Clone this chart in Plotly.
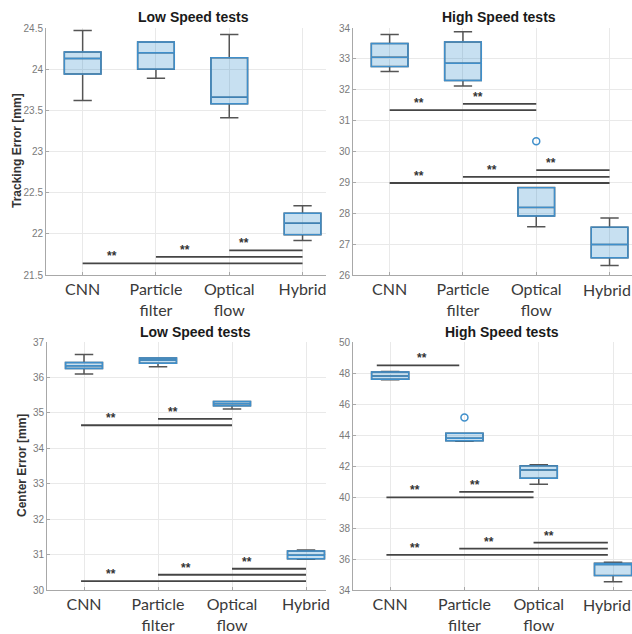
import plotly.graph_objects as go

W, H = 632, 634

categories = ["CNN", "Particle<br>filter", "Optical<br>flow", "Hybrid"]
xpos = [1, 2, 3, 4]

# ---- Panel A: Tracking error, low speed ----
a_low = [23.62, 23.89, 23.41, 21.92]
a_q1 = [23.94, 24.00, 23.58, 21.99]
a_med = [24.13, 24.20, 23.66, 22.13]
a_q3 = [24.21, 24.33, 24.14, 22.25]
a_up = [24.47, 24.33, 24.42, 22.34]
a_out_x, a_out_y = [], []
a_sig_x0 = [1, 2, 3]
a_sig_x1 = [4, 4, 4]
a_sig_y = [21.64, 21.72, 21.80]

# ---- Panel B: Tracking error, high speed ----
b_low = [32.59, 32.12, 27.56, 26.31]
b_q1 = [32.75, 32.30, 27.91, 26.56]
b_med = [33.05, 32.86, 28.19, 26.99]
b_q3 = [33.50, 33.55, 28.83, 27.55]
b_up = [33.79, 33.88, 28.83, 27.85]
b_out_x, b_out_y = [3], [30.33]
b_sig_x0 = [1, 2, 1, 2, 3]
b_sig_x1 = [3, 3, 4, 4, 4]
b_sig_y = [31.34, 31.54, 28.98, 29.18, 29.40]

# ---- Panel C: Center error, low speed ----
c_low = [36.10, 36.30, 35.11, 30.87]
c_q1 = [36.25, 36.40, 35.20, 30.88]
c_med = [36.33, 36.49, 35.26, 30.98]
c_q3 = [36.42, 36.55, 35.32, 31.10]
c_up = [36.65, 36.55, 35.32, 31.13]
c_out_x, c_out_y = [], []
c_sig_x0 = [0.96, 2, 0.96, 2, 3]
c_sig_x1 = [3, 3, 4, 4, 4]
c_sig_y = [34.65, 34.83, 30.25, 30.43, 30.60]

# ---- Panel D: Center error, high speed ----
d_low = [47.57, 43.60, 40.83, 34.54]
d_q1 = [47.60, 43.63, 41.21, 34.93]
d_med = [47.80, 43.79, 41.75, 35.65]
d_q3 = [48.06, 44.11, 42.01, 35.72]
d_up = [48.10, 44.11, 42.08, 35.79]
d_out_x, d_out_y = [2], [45.13]
d_sig_x0 = [0.82, 0.95, 1.93, 0.95, 1.93, 2.93]
d_sig_x1 = [1.93, 2.93, 2.93, 3.93, 3.93, 3.93]
d_sig_y = [48.49, 39.97, 40.33, 36.26, 36.67, 37.06]

titles = ["Low Speed tests", "High Speed tests", "Low Speed tests", "High Speed tests"]
ytitles = ["Tracking Error [mm]", "Center Error [mm]"]

BOX_LINE = "#3f8fcb"
BOX_FILL = "rgba(0,114,189,0.22)"
WHISK = "#555555"
SIG = "#454545"
GRID = "#e9e9e9"
AXL = "#a8a8a8"
XFONT = dict(family="Lato", size=16, color="#3a3a3a")


def px_x(p):
    return p / W


def px_y(p):
    return 1 - p / H


# edge=True: last category label is placed flush with the page's right edge
panels = [
    dict(low=a_low, q1=a_q1, med=a_med, q3=a_q3, up=a_up, ox=a_out_x, oy=a_out_y,
         sx0=a_sig_x0, sx1=a_sig_x1, sy=a_sig_y, soff=[0.4, 0.4, 0.2], edge=False,
         xd=(46, 326), yd=(28, 275), xr=(0.5, 0.5 + 280 / 73.3), yr=(21.5, 24.5), dt=0.5),
    dict(low=b_low, q1=b_q1, med=b_med, q3=b_q3, up=b_up, ox=b_out_x, oy=b_out_y,
         sx0=b_sig_x0, sx1=b_sig_x1, sy=b_sig_y, soff=[0.4, 0.2, 0.4, 0.4, 0.2], edge=True,
         xd=(353, 632), yd=(28, 275), xr=(0.5, 0.5 + 279 / 73.3), yr=(26, 34), dt=1),
    dict(low=c_low, q1=c_q1, med=c_med, q3=c_q3, up=c_up, ox=c_out_x, oy=c_out_y,
         sx0=c_sig_x0, sx1=c_sig_x1, sy=c_sig_y, soff=[0.4, 0.2, 0.4, 0.38, 0.2], edge=False,
         xd=(47, 326), yd=(342, 590), xr=(0.5, 0.5 + 279 / 74.0), yr=(30, 37), dt=1),
    dict(low=d_low, q1=d_q1, med=d_med, q3=d_q3, up=d_up, ox=d_out_x, oy=d_out_y,
         sx0=d_sig_x0, sx1=d_sig_x1, sy=d_sig_y, soff=[0.61, 0.38, 0.21, 0.38, 0.4, 0.21], edge=True,
         xd=(353, 632), yd=(342, 590), xr=(0.5, 0.5 + 279 / 74.3), yr=(34, 50), dt=2),
]

fig = go.Figure()
layout = dict(
    width=W, height=H, margin=dict(l=0, r=0, t=0, b=0),
    paper_bgcolor="white", plot_bgcolor="white", showlegend=False,
    boxmode="overlay", shapes=[], annotations=[],
)

for i, p in enumerate(panels):
    n = "" if i == 0 else str(i + 1)
    xa, ya = "x" + n, "y" + n
    # whiskers (gray)
    fig.add_trace(go.Box(
        x=xpos, q1=p["q1"], median=p["med"], q3=p["q3"],
        lowerfence=p["low"], upperfence=p["up"], width=0.5, whiskerwidth=0.5,
        line=dict(color=WHISK, width=1.5), fillcolor="rgba(0,0,0,0)",
        boxpoints=False, xaxis=xa, yaxis=ya, hoverinfo="skip"))
    # boxes (blue)
    fig.add_trace(go.Box(
        x=xpos, q1=p["q1"], median=p["med"], q3=p["q3"],
        lowerfence=p["q1"], upperfence=p["q3"], width=0.5, whiskerwidth=0,
        line=dict(color=BOX_LINE, width=1.4), fillcolor=BOX_FILL,
        boxpoints=False, xaxis=xa, yaxis=ya, hoverinfo="skip"))
    if p["ox"]:
        fig.add_trace(go.Scatter(
            x=p["ox"], y=p["oy"], mode="markers", xaxis=xa, yaxis=ya,
            marker=dict(symbol="circle-open", size=7, color=BOX_LINE, line=dict(width=1.5))))
    for x0, x1, yv, so in zip(p["sx0"], p["sx1"], p["sy"], p["soff"]):
        layout["shapes"].append(dict(
            type="line", xref=xa, yref=ya, x0=x0, x1=x1, y0=yv, y1=yv,
            line=dict(color=SIG, width=1.8)))
        layout["annotations"].append(dict(
            x=x0 + so, y=yv, xref=xa, yref=ya, text="**", showarrow=False,
            yanchor="middle", yshift=7,
            font=dict(family="Liberation Sans", size=12, color="#333333", weight="bold")))

    ticktext = list(categories)
    if p["edge"]:
        ticktext[-1] = ""
        layout["annotations"].append(dict(
            x=1, y=px_y(p["yd"][1] + 14), xref="paper", yref="paper",
            text=categories[-1], showarrow=False, xanchor="right", yanchor="middle",
            borderpad=0, font=XFONT))
    layout["xaxis" + n] = dict(
        domain=[px_x(p["xd"][0]), px_x(p["xd"][1])], range=list(p["xr"]), anchor=ya,
        tickvals=xpos, ticktext=ticktext, showgrid=True, gridcolor=GRID,
        showline=True, linecolor=AXL, linewidth=1, ticks="inside", ticklen=3,
        tickcolor=AXL, zeroline=False, automargin=False, ticklabeloverflow="allow",
        tickfont=XFONT)
    layout["yaxis" + n] = dict(
        domain=[px_y(p["yd"][1]), px_y(p["yd"][0])], range=list(p["yr"]), anchor=xa,
        dtick=p["dt"], tick0=p["yr"][0], showgrid=True, gridcolor=GRID,
        showline=True, linecolor=AXL, linewidth=1, ticks="inside", ticklen=3,
        tickcolor=AXL, zeroline=False, automargin=False,
        tickfont=dict(family="Liberation Sans", size=10, color="#7a7a7a"))

title_pos = [(193, 17), (499, 17), (195, 332), (502, 332)]
for t, (tx, ty) in zip(titles, title_pos):
    layout["annotations"].append(dict(
        x=px_x(tx), y=px_y(ty), xref="paper", yref="paper", text=t, showarrow=False,
        xanchor="center", yanchor="middle",
        font=dict(family="Liberation Sans", size=14, color="#1a1a1a", weight="bold")))

for t, (tx, ty) in zip(ytitles, [(17, 151), (22, 466)]):
    layout["annotations"].append(dict(
        x=px_x(tx), y=px_y(ty), xref="paper", yref="paper", text=t, showarrow=False,
        textangle=-90, xanchor="center", yanchor="middle",
        font=dict(family="Liberation Sans", size=12, color="#333333", weight="bold")))

fig.update_layout(**layout)
fig.write_html(
    "out.html",
    config=dict(displayModeBar=False, staticPlot=True),
    post_script="document.body.style.margin='0';document.body.style.padding='0';"
                "document.body.style.overflow='hidden';",
)
